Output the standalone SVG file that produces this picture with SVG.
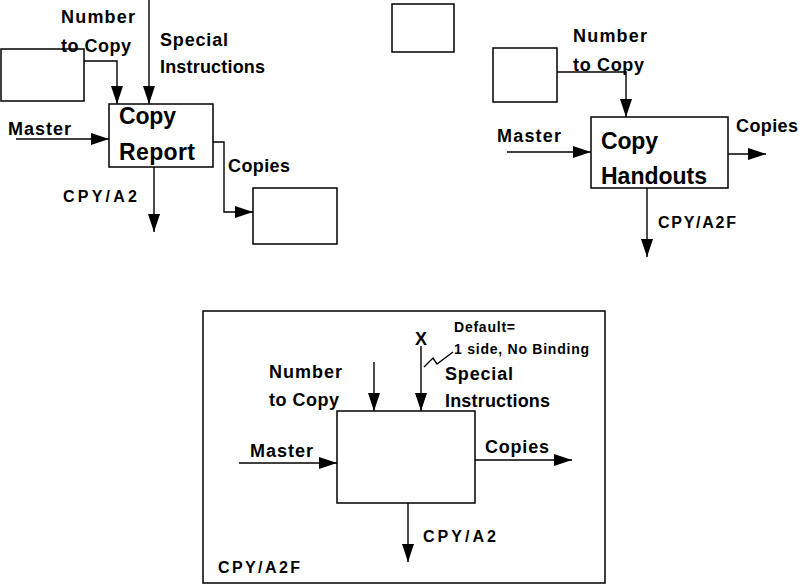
<svg xmlns="http://www.w3.org/2000/svg" width="800" height="584" viewBox="0 0 800 584">
<style>
.box{fill:#fff;stroke:#000;stroke-width:1.5}
.frame{fill:none;stroke:#000;stroke-width:1.5}
.ln{fill:none;stroke:#000;stroke-width:1.4}
.arr{fill:none;stroke:#000;stroke-width:1.4;marker-end:url(#ah)}
text{font-family:"Liberation Sans",Arial,sans-serif;font-weight:bold;fill:#000}
.lb{font-size:18px}
.cd{font-size:16px}
.big{font-size:23px}
.sm{font-size:14px}
</style>
<defs>
<marker id="ah" markerUnits="userSpaceOnUse" markerWidth="18" markerHeight="12" refX="18" refY="6" orient="auto" viewBox="0 0 18 12">
<path d="M0,0 L18,6 L0,12 Z" fill="#000"/>
</marker>
</defs>
<rect width="800" height="584" fill="#fff"/>

<g id="copy-report">
<rect class="box" x="109" y="104" width="104" height="63"/>
<text class="big" x="119" y="124" textLength="57" lengthAdjust="spacing">Copy</text>
<text class="big" x="119" y="160" textLength="76" lengthAdjust="spacing">Report</text>
</g>
<g id="cr-number-source"><rect class="box" x="1" y="49" width="83" height="52"/></g>
<g id="cr-copies-dest"><rect class="box" x="253" y="188" width="84" height="56"/></g>
<g id="cr-labels">
<text class="lb" x="61" y="23" textLength="74" lengthAdjust="spacing">Number</text>
<text class="lb" x="61" y="52" textLength="70" lengthAdjust="spacing">to Copy</text>
<text class="lb" x="160" y="46" textLength="68" lengthAdjust="spacing">Special</text>
<text class="lb" x="160" y="73" textLength="105" lengthAdjust="spacing">Instructions</text>
<text class="lb" x="8" y="135" textLength="63" lengthAdjust="spacing">Master</text>
<text class="lb" x="228" y="172" textLength="62" lengthAdjust="spacing">Copies</text>
<text class="cd" x="63" y="202" textLength="74" lengthAdjust="spacing">CPY/A2</text>
</g>

<g id="lone-box"><rect class="box" x="392" y="4" width="62" height="48"/></g>

<g id="copy-handouts">
<rect class="box" x="591" y="117" width="137" height="71"/>
<text class="big" x="601" y="149" textLength="57" lengthAdjust="spacing">Copy</text>
<text class="big" x="601" y="184" textLength="106" lengthAdjust="spacing">Handouts</text>
</g>
<g id="ch-number-source"><rect class="box" x="493" y="48" width="64" height="54"/></g>
<g id="ch-labels">
<text class="lb" x="573" y="42" textLength="74" lengthAdjust="spacing">Number</text>
<text class="lb" x="573" y="71" textLength="71" lengthAdjust="spacing">to Copy</text>
<text class="lb" x="497" y="142" textLength="64" lengthAdjust="spacing">Master</text>
<text class="lb" x="736" y="132" textLength="62" lengthAdjust="spacing">Copies</text>
<text class="cd" x="658" y="228" textLength="78" lengthAdjust="spacing">CPY/A2F</text>
</g>

<g id="cpy-a2f-frame">
<rect class="frame" x="203" y="311" width="402" height="272"/>
<text class="cd" x="218" y="573" textLength="82" lengthAdjust="spacing">CPY/A2F</text>
</g>
<g id="cpy-a2f-box">
<rect class="box" x="337" y="411" width="138" height="92"/>
</g>
<g id="a2f-labels">
<text class="lb" x="421" y="345" text-anchor="middle">X</text>
<text class="sm" x="454" y="332" textLength="61" lengthAdjust="spacing">Default=</text>
<text class="sm" x="454" y="354" textLength="135" lengthAdjust="spacing">1 side, No Binding</text>
<text class="lb" x="269" y="378" textLength="73" lengthAdjust="spacing">Number</text>
<text class="lb" x="269" y="406" textLength="70" lengthAdjust="spacing">to Copy</text>
<text class="lb" x="445" y="380" textLength="68" lengthAdjust="spacing">Special</text>
<text class="lb" x="445" y="407" textLength="105" lengthAdjust="spacing">Instructions</text>
<text class="lb" x="250" y="457" textLength="63" lengthAdjust="spacing">Master</text>
<text class="lb" x="485" y="453" textLength="64" lengthAdjust="spacing">Copies</text>
<text class="cd" x="423" y="542" textLength="73" lengthAdjust="spacing">CPY/A2</text>
</g>

<g id="connectors">
<!-- Copy Report -->
<polyline class="arr" points="84,61 117,61 117,104"/>
<line class="arr" x1="149" y1="0" x2="149" y2="104"/>
<line class="arr" x1="16" y1="139" x2="109" y2="139"/>
<polyline class="arr" points="213,142 224,142 224,212 253,212"/>
<line class="arr" x1="154" y1="167" x2="154" y2="232"/>
<!-- Copy Handouts -->
<polyline class="arr" points="557,72 626,72 626,117"/>
<line class="arr" x1="507" y1="152" x2="591" y2="152"/>
<line class="arr" x1="728" y1="154" x2="766" y2="154"/>
<line class="arr" x1="647" y1="188" x2="647" y2="257"/>
<!-- CPY/A2F -->
<line class="arr" x1="374" y1="362" x2="374" y2="411"/>
<line class="arr" x1="421" y1="346" x2="421" y2="411"/>
<polyline class="ln" points="424,367 433,358 437,364 453,352"/>
<line class="arr" x1="239" y1="463" x2="337" y2="463"/>
<line class="arr" x1="475" y1="460" x2="572" y2="460"/>
<line class="arr" x1="408" y1="503" x2="408" y2="562"/>
</g>
</svg>
